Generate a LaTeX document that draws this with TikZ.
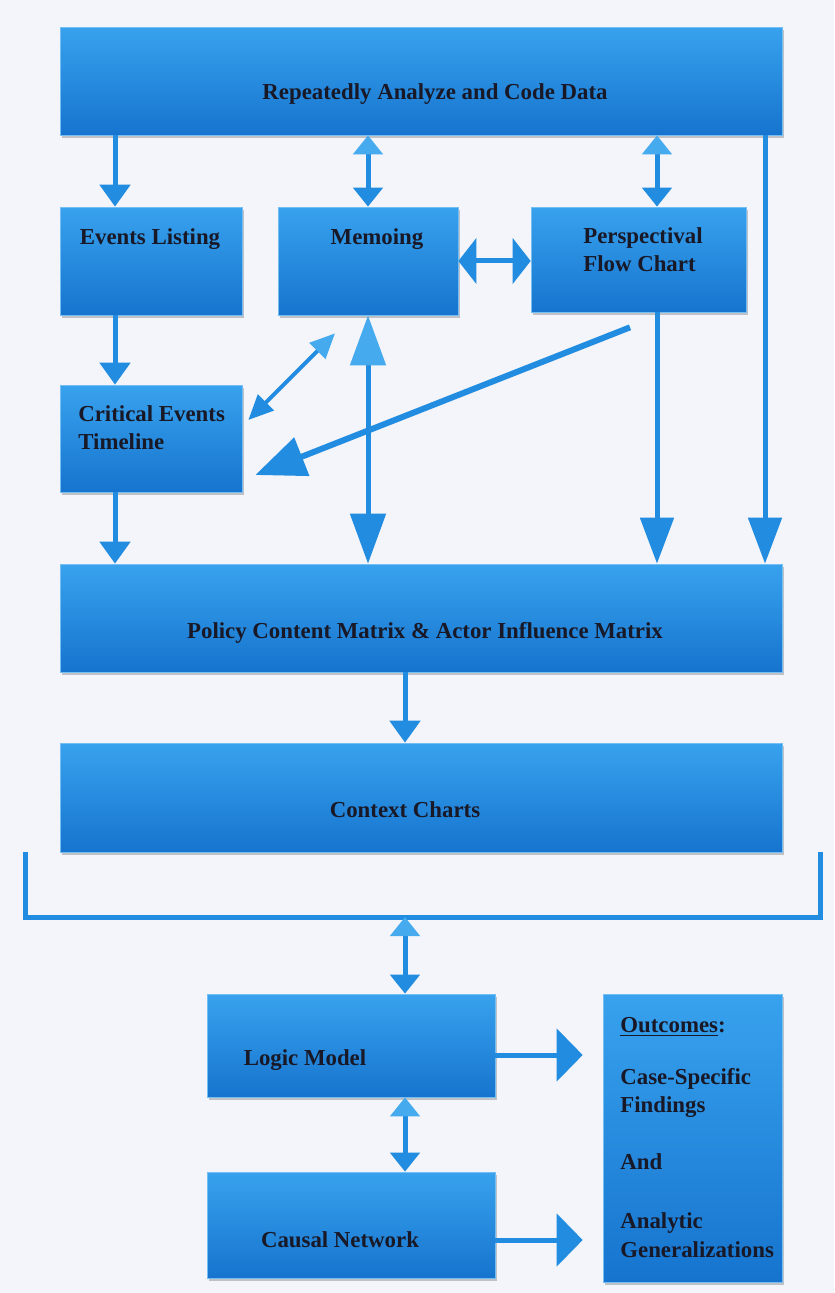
\documentclass[tikz,border=0pt]{standalone}
\usepackage{fontspec}
\setmainfont{Liberation Serif}
\usetikzlibrary{arrows.meta,shadows}
\definecolor{boxtop}{RGB}{56,162,238}
\definecolor{boxbot}{RGB}{22,116,206}
\definecolor{linkblue}{RGB}{34,140,224}
\definecolor{linklight}{RGB}{70,170,238}
\definecolor{paper}{RGB}{243,245,250}
\definecolor{ink}{RGB}{24,24,38}

\begin{document}
\begin{tikzpicture}[x=0.02cm, y=-0.02cm,
		box/.style={rectangle, inner sep=0pt, top color=boxtop, bottom color=boxbot, draw=boxtop!70!white, line width=0.4pt,
			drop shadow={shadow xshift=0.04cm, shadow yshift=-0.06cm, opacity=0.3, fill=black!70}},
		txt/.style={font=\fontsize{13}{16}\selectfont\bfseries, text=ink, inner sep=0pt},
		link/.style={draw=linkblue, line width=0.1cm}]
		%%%%% START %%%%%
		
		\fill[paper] (0,0) rectangle (834,1293);
		\useasboundingbox (0,0) rectangle (834,1293);
		
		% columns of the vertical arrows
		\coordinate (colA) at (115,0);
		\coordinate (colR) at (765,0);
		\coordinate (colP) at (657,0);
		\coordinate (colC) at (405,0);
		
		\node[box, minimum width=14.44cm, minimum height=2.16cm] (analyze) at (421,81) {};
		\node[txt, anchor=base] (analyzetxt) at (435,100) {Repeatedly Analyze and Code Data};
		
		\node[box, minimum width=3.64cm, minimum height=2.16cm] (events) at (151,261) {};
		\node[txt, anchor=base] (eventstxt) at (150,245) {Events Listing};
		\node[box, minimum width=3.6cm, minimum height=2.16cm] (memo) at (368,261) {};
		\node[txt, anchor=base] (memotxt) at (377,245) {Memoing};
		\node[box, minimum width=4.3cm, minimum height=2.1cm] (persp) at (638.5,259.5) {};
		\node[txt, anchor=base west, align=left] (persptxt) at (583,272) {Perspectival\\Flow Chart};
		
		\node[box, minimum width=3.64cm, minimum height=2.14cm] (crit) at (151,438.5) {};
		\node[txt, anchor=base west, align=left] (crittxt) at (78,450) {Critical Events\\Timeline};
		
		\node[box, minimum width=14.44cm, minimum height=2.16cm] (policy) at (421,618) {};
		\node[txt, anchor=base] (policytxt) at (425,638) {Policy Content Matrix \& Actor Influence Matrix};
		
		\node[box, minimum width=14.44cm, minimum height=2.18cm] (context) at (421,797.5) {};
		\node[txt, anchor=base] (contexttxt) at (405,817) {Context Charts};
		
		\node[box, minimum width=5.76cm, minimum height=2.06cm] (logic) at (351,1045.5) {};
		\node[txt, anchor=base] (logictxt) at (305,1065) {Logic Model};
		\node[box, minimum width=5.76cm, minimum height=2.12cm] (causal) at (351,1225) {};
		\node[txt, anchor=base] (causaltxt) at (340,1247) {Causal Network};
		
		\node[box, minimum width=3.58cm, minimum height=5.76cm] (outcomes) at (692.5,1138) {};
		\node[txt, anchor=base west, align=left] (outcomestxt) at (620,1257)
			{\underline{Outcomes}:\\[14pt]Case-Specific\\Findings\\[16pt]And\\[18pt]Analytic\\Generalizations};
		
		% top row
		\draw[link, -{Triangle[width=0.6cm,length=0.44cm]}] (analyze.south -| colA) -- (events.north -| colA);
		\draw[link, {Triangle[width=0.58cm,length=0.38cm,color=linklight]}-{Triangle[width=0.58cm,length=0.38cm]}] (analyze.south -| memo.north) -- (memo.north);
		\draw[link, {Triangle[width=0.58cm,length=0.38cm,color=linklight]}-{Triangle[width=0.58cm,length=0.38cm]}] (analyze.south -| colP) -- (persp.north -| colP);
		\draw[link, {Triangle[width=0.9cm,length=0.36cm]}-{Triangle[width=0.9cm,length=0.36cm]}] (memo.east) -- (memo.east -| persp.west);
		
		% long ones down to the matrix
		\draw[link, -{Triangle[width=0.66cm,length=0.92cm]}] (analyze.south -| colR) -- (policy.north -| colR);
		\draw[link, -{Triangle[width=0.66cm,length=0.92cm]}] (persp.south -| colP) -- (policy.north -| colP);
		\draw[link, {Triangle[width=0.7cm,length=1cm,color=linklight]}-{Triangle[width=0.7cm,length=1cm]}] (memo.south) -- (policy.north -| memo.south);
		\draw[link, -{Triangle[width=0.6cm,length=0.44cm]}] (events.south -| colA) -- (crit.north -| colA);
		\draw[link, -{Triangle[width=0.6cm,length=0.44cm]}] (crit.south -| colA) -- (policy.north -| colA);
		
		% diagonals into the timeline
		\draw[link, line width=0.08cm, {Triangle[width=0.44cm,length=0.5cm,color=linklight]}-{Triangle[width=0.44cm,length=0.5cm]}] ([shift={(-0.66cm,-0.36cm)}]memo.south) -- ([shift={(0.12cm,0.37cm)}]crit.east);
		\draw[link, line width=0.12cm, -{Triangle[width=0.8cm,length=1cm]}] ([shift={(-0.17cm,-0.3cm)}]persp.south) -- ([shift={(0.26cm,-0.73cm)}]crit.east);
		
		\draw[link, -{Triangle[width=0.6cm,length=0.44cm]}] (policy.south -| colC) -- (context.north -| colC);
		
		% bracket
		\coordinate (brL) at (25,852);
		\coordinate (brR) at (820,852);
		\coordinate (brMid) at (405,917);
		\draw[link] (brL) |- (brMid) -| (brR);
		
		\draw[link, {Triangle[width=0.58cm,length=0.38cm,color=linklight]}-{Triangle[width=0.58cm,length=0.38cm]}] (brMid) -- (logic.north -| brMid);
		\draw[link, {Triangle[width=0.58cm,length=0.38cm,color=linklight]}-{Triangle[width=0.58cm,length=0.38cm]}] (logic.south -| brMid) -- (causal.north -| brMid);
		
		\draw[link, shorten >=0.4cm, -{Triangle[width=1.04cm,length=0.52cm]}] ([yshift=-0.19cm]logic.east) -- ([yshift=-0.19cm]logic.east -| outcomes.west);
		\draw[link, shorten >=0.4cm, -{Triangle[width=1.04cm,length=0.52cm]}] ([yshift=-0.3cm]causal.east) -- ([yshift=-0.3cm]causal.east -| outcomes.west);
		
		%%%%% END %%%%%
	\end{tikzpicture}
\end{document}
